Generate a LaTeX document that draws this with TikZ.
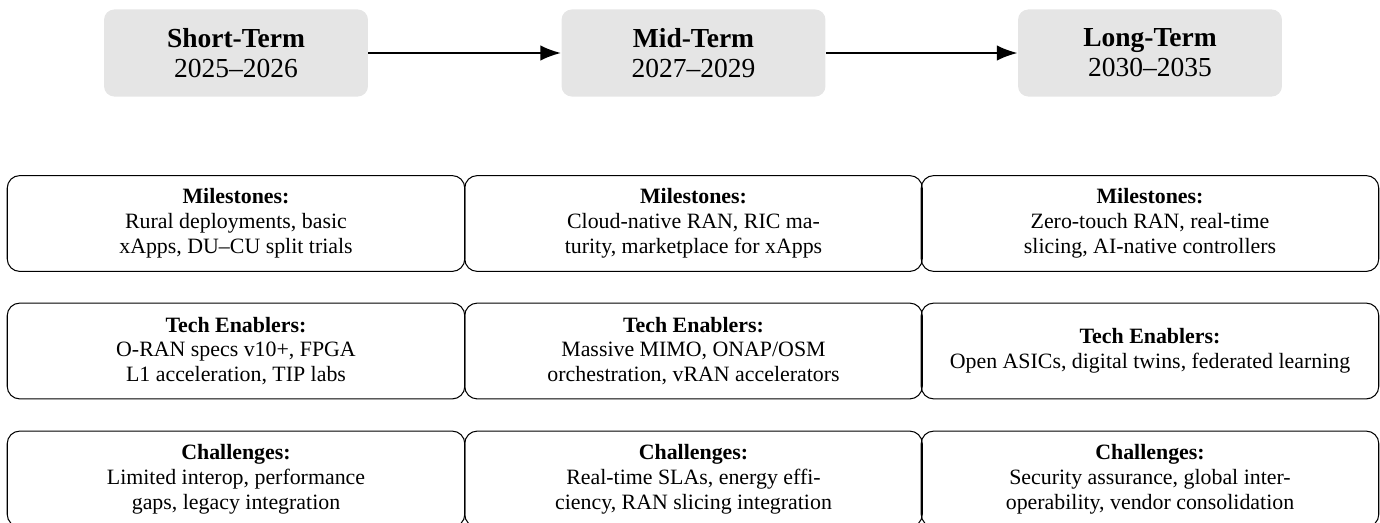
\documentclass[tikz,border=0pt]{standalone}
\usepackage{fontspec}
\setmainfont{Liberation Serif}
\usetikzlibrary{arrows.meta}
\tikzset{
  phase/.style={fill=black!10, rounded corners=5pt, minimum width=126.7pt, minimum height=41.8pt,
    align=center, inner sep=0pt, font=\fontsize{13.2}{14.4}\selectfont},
  info/.style={draw=black, line width=0.5pt, rounded corners=6pt, minimum width=219.6pt, minimum height=46pt,
    align=center, inner sep=0pt, font=\fontsize{10.5}{11.9}\selectfont},
  flow/.style={line width=1.1pt, -{Latex[length=10pt,width=7.5pt]}}
}
\begin{document}
\begin{tikzpicture}[x=0.48pt,y=-0.48pt]
\clip (0,0) rectangle (1380,523);
\node[phase] (st) at (236,53) {\textbf{Short-Term}\\2025–2026};
\node[phase] (mt) at (693.5,53) {\textbf{Mid-Term}\\2027–2029};
\node[phase] (lt) at (1150,53) {\textbf{Long-Term}\\2030–2035};
\draw[flow] (st) -- (mt);
\draw[flow] (mt) -- (lt);

\node[info] (m1) at (236,223.5) {\textbf{Milestones:}\\Rural deployments, basic\\xApps, DU–CU split trials};
\node[info] (m2) at (693.5,223.5) {\textbf{Milestones:}\\Cloud-native RAN, RIC ma-\\turity, marketplace for xApps};
\node[info] (m3) at (1150,223.5) {\textbf{Milestones:}\\Zero-touch RAN, real-time\\slicing, AI-native controllers};

\node[info] (t1) at (236,351) {\textbf{Tech Enablers:}\\O-RAN specs v10+, FPGA\\L1 acceleration, TIP labs};
\node[info] (t2) at (693.5,351) {\textbf{Tech Enablers:}\\Massive MIMO, ONAP/OSM\\orchestration, vRAN accelerators};
\node[info] (t3) at (1150,351) {\textbf{Tech Enablers:}\\Open ASICs, digital twins, federated learning};

\node[info] (c1) at (236,479) {\textbf{Challenges:}\\Limited interop, performance\\gaps, legacy integration};
\node[info] (c2) at (693.5,479) {\textbf{Challenges:}\\Real-time SLAs, energy effi-\\ciency, RAN slicing integration};
\node[info] (c3) at (1150,479) {\textbf{Challenges:}\\Security assurance, global inter-\\operability, vendor consolidation};
\end{tikzpicture}
\end{document}
